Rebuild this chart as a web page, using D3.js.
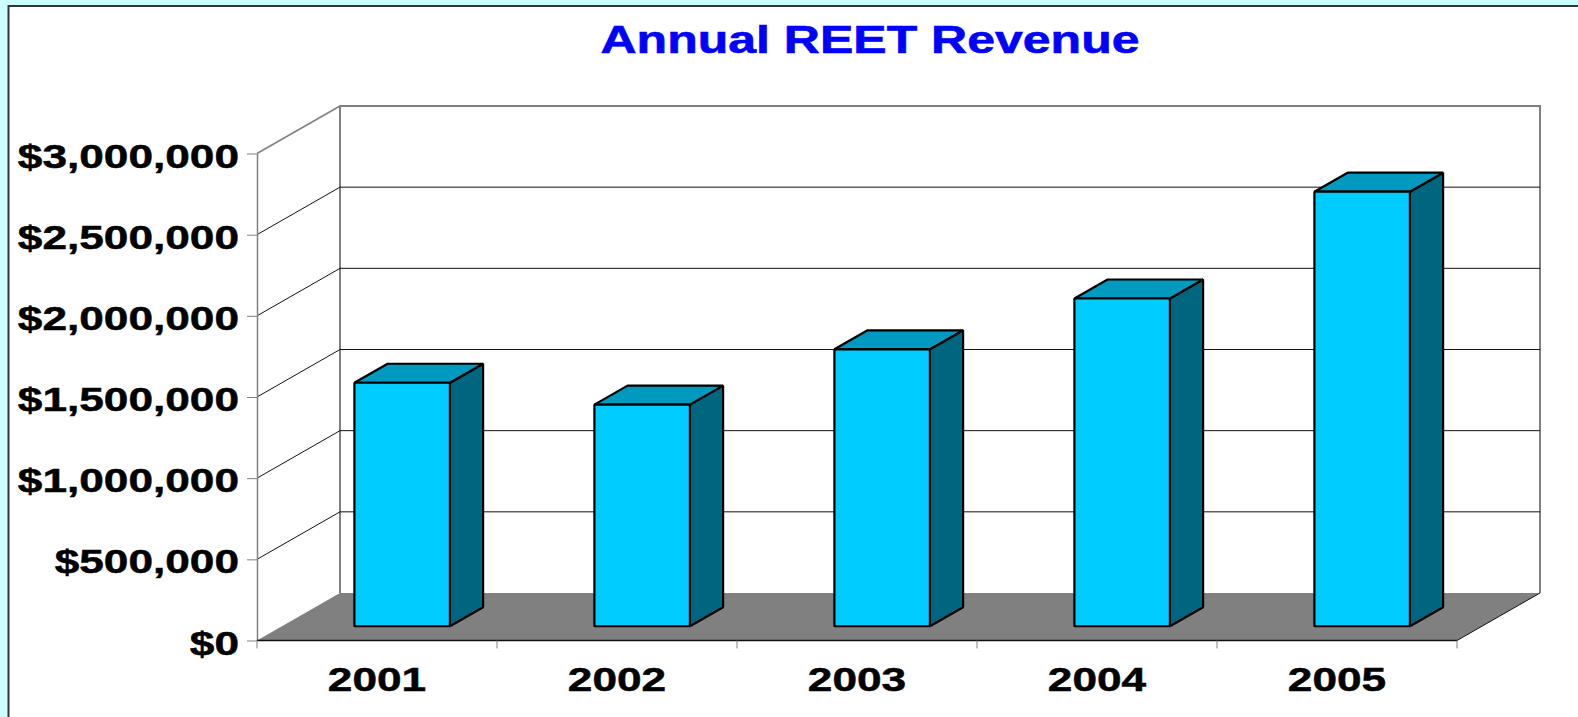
<!DOCTYPE html>
<meta charset="utf-8">
<style>

body {
  margin: 0;
  background: #ccffff;
  overflow: hidden;
}

svg {
  display: block;
  font-family: "Liberation Sans", Arial, sans-serif;
  font-weight: bold;
}

.domain, .tick line {
  stroke: #808080;
}

</style>
<svg width="1578" height="717"></svg>
<script src="https://d3js.org/d3.v7.min.js"></script>
<script>

var years = ["2001", "2002", "2003", "2004", "2005"],
    revenue = [1500000, 1365000, 1706000, 2019000, 2677000],
    yTicks = [0, 500000, 1000000, 1500000, 2000000, 2500000, 3000000];

var svg = d3.select("svg");

var x = d3.scaleBand().domain(years).range([257, 1457]).paddingInner(0.6).paddingOuter(0.3),
    y = d3.scaleLinear().domain([0, 3000000]).range([640.5, 153.5]);

// oblique offset of the back wall, bars sit from 30% to 70% of the depth
var depthX = 83,
    depthY = -47.5,
    barNear = 0.3,
    barFar = 0.7;

var money = d3.format("$,.0f");

function poly(points) {
  return "M" + points.join("L") + "Z";
}

svg.append("rect")
    .attr("x", 8.5)
    .attr("y", 6)
    .attr("width", 1580)
    .attr("height", 720)
    .attr("fill", "#fff")
    .attr("stroke", "#333")
    .attr("stroke-width", 2);

svg.append("text")
    .attr("x", 870)
    .attr("y", 53)
    .attr("text-anchor", "middle")
    .attr("font-size", 38)
    .attr("fill", "#0000ff")
    .attr("stroke", "#0000ff")
    .attr("stroke-width", 0.6)
    .attr("textLength", 539)
    .attr("lengthAdjust", "spacingAndGlyphs")
    .text("Annual REET Revenue");

var x0 = x.range()[0],
    x1 = x.range()[1];

// back wall and side wall
svg.append("path")
    .attr("fill", "#fff")
    .attr("stroke", "#808080")
    .attr("stroke-width", 2)
    .attr("d", "M" + [x0 + depthX, y(0) + depthY] + "V" + (y(3000000) + depthY) + "H" + (x1 + depthX) + "V" + (y(0) + depthY));

svg.append("line")
    .attr("x1", x0)
    .attr("y1", y(3000000))
    .attr("x2", x0 + depthX)
    .attr("y2", y(3000000) + depthY)
    .attr("stroke", "#808080")
    .attr("stroke-width", 1.5);

// floor
svg.append("path")
    .attr("fill", "#808080")
    .attr("d", poly([[x0, y(0)], [x0 + depthX, y(0) + depthY], [x1 + depthX, y(0) + depthY], [x1, y(0)]]));

svg.append("line")
    .attr("x1", x1)
    .attr("y1", y(0))
    .attr("x2", x1 + depthX)
    .attr("y2", y(0) + depthY)
    .attr("stroke", "#111");

// gridlines
var grid = svg.append("g")
    .attr("fill", "none")
    .attr("stroke", "#111")
  .selectAll("path")
  .data(yTicks.slice(1, -1))
  .enter().append("path")
    .attr("d", function(d) {
      return "M" + [x0, y(d)] + "L" + [x0 + depthX, y(d) + depthY] + "H" + (x1 + depthX);
    });

// axes
var yAxis = svg.append("g")
    .attr("transform", "translate(" + x0 + ",0)")
    .call(d3.axisLeft(y).tickValues(yTicks).tickFormat(money).tickSize(10).tickSizeOuter(0));

yAxis.select(".domain").attr("stroke-width", 1.5);

yAxis.selectAll("text")
    .attr("fill", "#000")
    .attr("stroke", "#000")
    .attr("stroke-width", 0.5)
    .attr("font-size", 34)
    .attr("x", 0)
    .attr("dy", 0)
    .attr("text-anchor", "end")
    .attr("transform", "translate(-18,13.5) scale(1.3,1)");

var xAxis = svg.append("g")
    .attr("transform", "translate(0," + y(0) + ")")
    .call(d3.axisBottom(x).tickSize(0).tickPadding(0));

xAxis.select(".domain").remove();

xAxis.selectAll("text")
    .attr("fill", "#000")
    .attr("stroke", "#000")
    .attr("stroke-width", 0.5)
    .attr("font-size", 34)
    .attr("y", 0)
    .attr("dy", 0)
    .attr("text-anchor", "middle")
    .attr("transform", "translate(0,50) scale(1.3,1)");

svg.append("line")
    .attr("x1", x0)
    .attr("y1", y(0))
    .attr("x2", x1)
    .attr("y2", y(0))
    .attr("stroke", "#111")
    .attr("stroke-width", 1.5);

svg.append("g")
    .attr("stroke", "#808080")
  .selectAll("line")
  .data(d3.range(years.length + 1))
  .enter().append("line")
    .attr("x1", function(i) { return x0 + i * x.step(); })
    .attr("x2", function(i) { return x0 + i * x.step(); })
    .attr("y1", y(0))
    .attr("y2", y(0) + 8);

// bars
var bars = svg.append("g")
    .attr("stroke", "#000")
    .attr("stroke-width", 2.2)
    .attr("stroke-linejoin", "bevel")
  .selectAll("g")
  .data(years)
  .enter().append("g");

function corners(year, i) {
  var l = x(year) + depthX * barNear + 0.5,
      r = l + x.bandwidth() - 0.5,
      b = y(0) + depthY * barNear,
      t = y(revenue[i]) + depthY * barNear,
      dx = depthX * (barFar - barNear),
      dy = depthY * (barFar - barNear);
  return {l: l, r: r, b: b, t: t, dx: dx, dy: dy};
}

bars.append("path")
    .attr("fill", "#006680")
    .attr("d", function(d, i) {
      var c = corners(d, i);
      return poly([[c.r, c.b], [c.r + c.dx, c.b + c.dy], [c.r + c.dx, c.t + c.dy], [c.r, c.t]]);
    });

bars.append("path")
    .attr("fill", "#0099bf")
    .attr("d", function(d, i) {
      var c = corners(d, i);
      return poly([[c.l, c.t], [c.l + c.dx, c.t + c.dy], [c.r + c.dx, c.t + c.dy], [c.r, c.t]]);
    });

bars.append("path")
    .attr("fill", "#00ccff")
    .attr("d", function(d, i) {
      var c = corners(d, i);
      return poly([[c.l, c.b], [c.l, c.t], [c.r, c.t], [c.r, c.b]]);
    });

</script>
